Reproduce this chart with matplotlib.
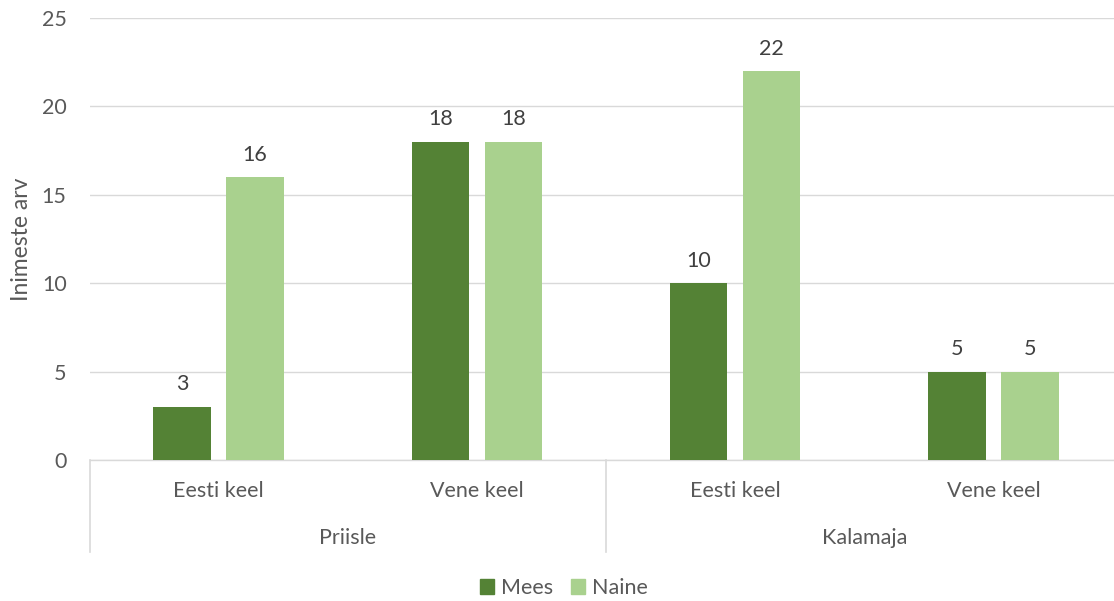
import matplotlib
matplotlib.use('Agg')
import matplotlib.pyplot as plt
import matplotlib.transforms as mtransforms
from matplotlib.patches import Patch

# --- data ---
languages = ["Eesti keel", "Vene keel", "Eesti keel", "Vene keel"]
districts = ["Priisle", "Kalamaja"]
mees = [3, 18, 10, 5]
naine = [16, 18, 22, 5]

DARK = "#548235"
LIGHT = "#A9D18E"
TEXT = "#595959"
GRID = "#D9D9D9"
FS = 15.5

plt.rcParams['font.family'] = ['Lato', 'DejaVu Sans']

fig = plt.figure(figsize=(11.14, 6.01), dpi=100)
# plot area runs a bit past the right edge of the picture, as in the reference
ax = fig.add_axes([89.5 / 1114, 1 - 460 / 601, 1033 / 1114, (460 - 18) / 601])

x = list(range(len(languages)))
w = 0.223
off = 0.1415
b1 = ax.bar([i - off for i in x], mees, width=w, color=DARK, label="Mees", zorder=3)
b2 = ax.bar([i + off for i in x], naine, width=w, color=LIGHT, label="Naine", zorder=3)

for bars in (b1, b2):
    for rect in bars:
        h = rect.get_height()
        ax.annotate(f"{h:g}", (rect.get_x() + rect.get_width() / 2, h),
                    xytext=(0, 9), textcoords="offset points",
                    ha="center", va="bottom", fontsize=FS, color="#404040")

ax.set_xlim(-0.5, len(languages) - 0.5)
ax.set_ylim(0, 25)
ax.set_yticks([0, 5, 10, 15, 20, 25])
ax.yaxis.grid(True, color=GRID, linewidth=1, zorder=0)
ax.set_axisbelow(True)
ax.tick_params(axis="y", length=0, pad=16.5, labelsize=FS, labelcolor=TEXT)
ax.set_xticks([])
for s in ("left", "right", "top"):
    ax.spines[s].set_visible(False)
ax.spines["bottom"].set_color(GRID)
ax.spines["bottom"].set_linewidth(1)

ax.set_ylabel("Inimeste arv", fontsize=16.5, color=TEXT)
ax.yaxis.set_label_coords((32 - 89.5) / 1033, 0.5)

# multi-level category axis
trans = mtransforms.blended_transform_factory(ax.transData, ax.transAxes)
ax_h = 460 - 18
for i, lab in enumerate(languages):
    ax.text(i, -(491 - 460) / ax_h, lab, transform=trans, ha="center", va="center",
            fontsize=FS, color=TEXT)
for j, d in enumerate(districts):
    ax.text(0.5 + 2 * j, -(538 - 460) / ax_h, d, transform=trans, ha="center", va="center",
            fontsize=FS, color=TEXT)
for xv in (-0.5, 1.5, 3.5):
    ax.plot([xv, xv], [0, -(552 - 460) / ax_h], transform=trans, color=GRID,
            linewidth=1.2, clip_on=False)

handles = [Patch(color=DARK, label="Mees"), Patch(color=LIGHT, label="Naine")]
leg = fig.legend(handles=handles, loc="center", bbox_to_anchor=(564 / 1114, 1 - 588 / 601),
                 ncol=2, frameon=False, fontsize=FS, handlelength=0.65, handleheight=0.65,
                 handletextpad=0.33, columnspacing=0.8)
for t in leg.get_texts():
    t.set_color(TEXT)

fig.savefig("out.png", dpi=100)
